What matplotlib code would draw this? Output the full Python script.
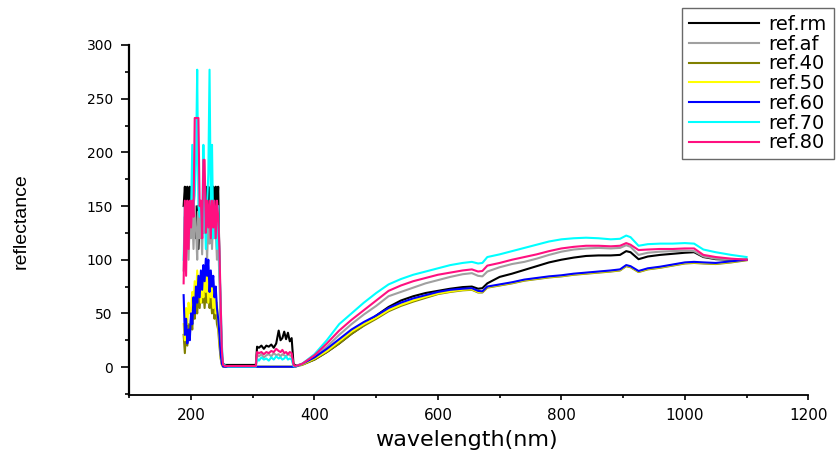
import matplotlib
matplotlib.use("Agg")
import matplotlib.pyplot as plt
from matplotlib.ticker import MultipleLocator

wavelength = [
    188, 190, 192, 194, 196, 198, 200, 202, 204, 206, 208, 210, 212, 214, 216, 218,
    220, 222, 224, 226, 228, 230, 232, 234, 236, 238, 240, 242, 244, 246, 248, 250,
    252, 255,
    260, 280, 300, 305, 307, 310, 314, 318, 322, 326, 330, 334, 338, 342, 345, 348,
    351, 354, 357, 360, 363, 366, 368, 372,
    380, 400, 420, 440, 460, 480, 500, 520, 540, 560, 580, 600, 620, 640, 655, 665,
    672, 680, 700, 720, 740, 760, 780, 800, 820, 840, 860, 880, 895, 905, 912, 925,
    940, 960, 980, 1000, 1015, 1030, 1050, 1075, 1100,
]

ref_rm = [
    150, 168, 140, 168, 120, 168, 145, 130, 150, 140, 120, 150, 110, 145, 130, 150,
    125, 160, 168, 140, 168, 120, 168, 150, 168, 130, 168, 145, 168, 100, 50, 10,
    3, 2,
    2, 2, 2, 2, 19, 18, 20, 17, 20, 19, 21, 18, 22, 34, 25, 27,
    33, 26, 32, 24, 27, 3, 2, 1.5,
    2.5, 7, 14, 22, 31, 39, 48, 56, 62, 66, 69, 71, 73, 74.5, 75, 73,
    73.5, 78, 84, 87, 90.5, 94, 97.5, 100, 102, 103.5, 104, 104, 104.5, 108, 107, 100.5,
    103, 104.5, 105.5, 106.5, 107, 102.5, 100.5, 100, 100,
]

ref_af = [
    90, 140, 110, 130, 100, 140, 120, 145, 110, 150, 130, 100, 145, 120, 140, 105,
    150, 125, 140, 100, 135, 115, 145, 110, 140, 120, 130, 100, 120, 80, 40, 8,
    2, 1,
    1, 1, 1, 1, 12, 10, 12, 9, 11, 12, 10, 13, 11, 12, 10, 12,
    11, 10, 12, 11, 10, 1.5, 1, 1.5,
    3, 10, 19, 30, 40, 49, 57, 66, 70, 74, 78, 81, 84, 86.5, 87.5, 85,
    84.5, 89, 93, 96, 98, 101, 104.5, 107.5, 109.5, 110.5, 111, 110.5, 111, 113.5, 112, 104.5,
    106.5, 107.5, 108, 108.5, 108, 103, 101, 100.5, 100,
]

ref_40 = [
    30, 13, 35, 20, 40, 30, 45, 35, 55, 45, 60, 50, 70, 55, 75, 60,
    70, 55, 75, 60, 70, 55, 65, 50, 60, 45, 55, 40, 35, 20, 8, 2,
    0.5, 0.3,
    0.3, 0.3, 0.3, 0.3, 0.3, 0.3, 0.3, 0.3, 0.3, 0.3, 0.3, 0.3, 0.3, 0.3, 0.3, 0.3,
    0.3, 0.3, 0.3, 0.3, 0.3, 0.3, 0.3, 1,
    2, 7, 14, 22, 31, 38.5, 45, 52, 57, 61, 64.5, 68, 70, 71.5, 72, 69.5,
    69.5, 74, 76, 78, 80.5, 82, 83.5, 84.5, 86, 87, 88, 89, 90, 94, 93, 88.5,
    91, 92.5, 94.5, 96.5, 97, 96.5, 96, 97.5, 99.5,
]

ref_50 = [
    40, 25, 55, 40, 60, 50, 53, 70, 60, 80, 65, 90, 70, 85, 60, 80,
    65, 90, 70, 85, 60, 80, 65, 75, 55, 70, 50, 60, 40, 25, 10, 2,
    0.5, 0.3,
    0.3, 0.3, 0.3, 0.3, 0.3, 0.3, 0.3, 0.3, 0.3, 0.3, 0.3, 0.3, 0.3, 0.3, 0.3, 0.3,
    0.3, 0.3, 0.3, 0.3, 0.3, 0.3, 0.3, 1,
    2.5, 8, 15, 24, 33, 40, 46, 53, 58, 62, 65.5, 68.5, 70.5, 72, 72.5, 70,
    70, 74.5, 76.5, 78.5, 81, 82.5, 84, 85, 86.5, 87.5, 88.5, 89.5, 90.5, 94.5, 93.5, 89,
    91.5, 93, 95, 97, 97.5, 97, 96.5, 98, 100,
]

ref_60 = [
    67, 30, 45, 22, 35, 25, 50, 40, 65, 50, 75, 60, 85, 65, 90, 72,
    95, 80, 101, 85, 100, 70, 90, 75, 85, 65, 75, 55, 45, 30, 12, 3,
    0.5, 0.3,
    0.3, 0.3, 0.3, 0.3, 0.3, 0.3, 0.3, 0.3, 0.3, 0.3, 0.3, 0.3, 0.3, 0.3, 0.3, 0.3,
    0.3, 0.3, 0.3, 0.3, 0.3, 0.3, 0.3, 1,
    3, 9, 17, 26, 35, 42, 48, 55, 60, 64, 67, 70, 72, 73, 73.5, 71,
    70.5, 75, 77, 79, 81.5, 83, 84.5, 85.5, 87, 88, 89, 90, 91, 95, 94, 89.5,
    92, 93.5, 95.5, 97.5, 98, 97.5, 97, 98.5, 100,
]

ref_70 = [
    100, 150, 130, 150, 120, 150, 140, 207, 150, 160, 190, 277, 150, 140, 150, 120,
    207, 150, 110, 150, 180, 277, 150, 207, 120, 150, 140, 110, 150, 100, 60, 20,
    3, 1.5,
    0.5, 0.5, 0.5, 0.5, 8, 6, 9, 7, 8, 6, 9, 7, 10, 8, 9, 7,
    8, 10, 7, 8, 7, 1, 0.5, 1.5,
    3, 12, 25, 40, 50, 60, 69, 77, 82, 86, 89, 92, 95, 97, 98, 96.5,
    97, 102.5, 105, 108, 111, 114, 117, 119, 120, 120.5, 120, 119, 119.5, 122.5, 121, 113,
    114.5, 115, 115, 115.5, 115, 109.5, 107, 104.5, 102.5,
]

ref_80 = [
    78, 155, 85, 155, 110, 155, 130, 155, 140, 232, 232, 232, 232, 150, 155, 120,
    193, 193, 125, 155, 130, 155, 120, 155, 130, 155, 120, 155, 140, 110, 60, 15,
    2, 1,
    1, 1, 1, 1, 14, 13, 14, 12, 14, 13, 15, 14, 17, 15, 14, 16,
    13, 14, 12, 14, 13, 2, 1, 1.5,
    3, 11, 22, 34, 44, 53, 62, 71, 76, 80, 83, 86, 88, 90, 91, 89,
    89.5, 94.5, 97, 100, 102.5, 105, 108, 110.5, 112, 113, 113, 112.5, 113, 115.5, 114, 109,
    109.5, 110, 110, 110.5, 110.5, 104.5, 102.5, 101, 100,
]

series_labels = ["ref.rm", "ref.af", "ref.40", "ref.50", "ref.60", "ref.70", "ref.80"]
series_values = [ref_rm, ref_af, ref_40, ref_50, ref_60, ref_70, ref_80]
series_colors = ["#000000", "#a0a0a0", "#808000", "#ffff00", "#0000ff", "#00ffff", "#ff1080"]

W, H = 840, 455
fig = plt.figure(figsize=(W / 100, H / 100), dpi=100)
ax = fig.add_axes([129.3 / W, 1 - 395 / H, (808.3 - 129.3) / W, (395 - 45) / H])

for lab, vals, col in zip(series_labels, series_values, series_colors):
    ax.plot(wavelength, vals, color=col, lw=1.5, label=lab)

ax.set_xlim(100, 1200)
ax.set_ylim(-26, 300)
ax.xaxis.set_major_locator(MultipleLocator(200))
ax.xaxis.set_minor_locator(MultipleLocator(100))
ax.yaxis.set_major_locator(MultipleLocator(50))
ax.yaxis.set_minor_locator(MultipleLocator(25))
ax.set_xticks([200, 400, 600, 800, 1000, 1200])
ax.set_yticks([0, 50, 100, 150, 200, 250, 300])

for s in ["top", "right"]:
    ax.spines[s].set_visible(False)
ax.spines["left"].set_linewidth(1.6)
ax.spines["bottom"].set_linewidth(1.3)

ax.tick_params(axis="x", which="major", direction="out", length=3.6, width=1.2,
               labelsize=11, pad=6)
ax.tick_params(axis="x", which="minor", direction="out", length=2.2, width=1.2)
ax.tick_params(axis="y", which="major", direction="out", length=5.8, width=1.2,
               labelsize=10, pad=6)
ax.tick_params(axis="y", which="minor", direction="out", length=3.2, width=1.2)

fig.text(466.5 / W, 1 - 440 / H, "wavelength(nm)", fontsize=16, ha="center", va="center",
         family="DejaVu Sans")
fig.text(21 / W, 1 - 221 / H, "reflectance", fontsize=14, rotation=90, ha="center",
         va="center", family=["Liberation Sans Narrow", "Liberation Sans", "DejaVu Sans"])

leg = fig.legend(loc="upper left", bbox_to_anchor=(682 / W, 1 - 8 / H), borderaxespad=0,
                 fontsize=14, frameon=True, fancybox=False, edgecolor="#444444",
                 handlelength=3.6, handletextpad=0.5, labelspacing=0.04,
                 borderpad=0.35)
leg.get_frame().set_linewidth(1.0)

fig.savefig("out.png", dpi=100)
